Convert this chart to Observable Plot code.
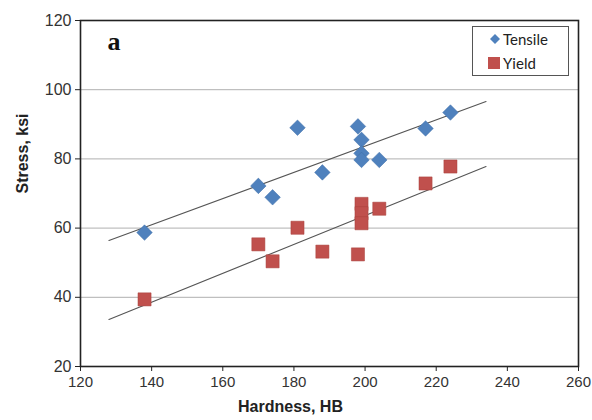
<!DOCTYPE html>
<html>
<head>
<meta charset="utf-8">
<script src="https://cdn.jsdelivr.net/npm/d3@7"></script>
<script src="https://cdn.jsdelivr.net/npm/@observablehq/plot@0.6"></script>
<style>
  html, body { margin: 0; padding: 0; background: #fff; }
  #wrap { position: relative; width: 592px; height: 420px; }
  #legend {
    position: absolute; left: 472px; top: 26px; width: 97px; height: 50px;
    border: 1px solid #555; background: #fff; box-sizing: border-box;
    font-family: Lato, "Open Sans", sans-serif; font-size: 15px; color: #222;
  }
  #legend .item { position: absolute; left: 15px; display: flex; align-items: center; }
  #legend svg { margin-right: 2px; }
</style>
</head>
<body>
<div id="wrap"><div id="legend"></div></div>
<script>
// Hardness (HB) for each specimen
const tensileHardness = [138, 170, 174, 181, 188, 198, 199, 199, 199, 204, 217, 224];
const tensileStress   = [58.7, 72.2, 68.9, 89.0, 76.1, 89.4, 85.5, 81.6, 79.7, 79.7, 88.8, 93.4];
const yieldHardness   = [138, 170, 174, 181, 188, 198, 199, 199, 199, 204, 217, 224];
const yieldStress     = [39.4, 55.3, 50.4, 60.1, 53.2, 52.4, 67.0, 64.3, 61.4, 65.6, 72.9, 77.8];
// Trend line end points (Excel linear fit, forecast)
const trendHardness = [128, 234];
const trendTensile  = [56.4, 96.6];
const trendYield    = [33.6, 77.8];
const xTicks = [120, 140, 160, 180, 200, 220, 240, 260];
const yTicks = [20, 40, 60, 80, 100, 120];
const gridTicks = [40, 60, 80, 100];
const seriesNames = ["Tensile", "Yield"];
const seriesColors = ["#4F81BD", "#C0504D"];

const tensile = tensileHardness.map((x, i) => ({x, y: tensileStress[i]}));
const yieldData = yieldHardness.map((x, i) => ({x, y: yieldStress[i]}));
const tTrend = trendHardness.map((x, i) => ({x, y: trendTensile[i]}));
const yTrend = trendHardness.map((x, i) => ({x, y: trendYield[i]}));

const chart = Plot.plot({
  width: 592, height: 420,
  marginLeft: 80, marginRight: 14, marginTop: 20, marginBottom: 54,
  style: {fontFamily: "Liberation Sans, Arial, sans-serif", background: "#fff"},
  x: {domain: [120, 260]},
  y: {domain: [20, 120]},
  marks: [
    Plot.gridY(gridTicks, {stroke: "#b0b0b0", strokeOpacity: 1, strokeWidth: 1}),
    Plot.axisX({ticks: xTicks, tickSize: 5, tickPadding: 5, fontSize: 15, fill: "#333", stroke: "#222", label: null}),
    Plot.axisY({ticks: yTicks, tickSize: 5, tickPadding: 4, fontSize: 16, fill: "#333", stroke: "#222", label: null}),
    Plot.text(["Hardness, HB"], {frameAnchor: "bottom", dy: 45, dx: -39, fontSize: 16, fontWeight: "bold", fill: "#222"}),
    Plot.text(["Stress, ksi"], {frameAnchor: "left", dx: -58, rotate: -90, fontSize: 16, fontWeight: "bold", fill: "#222"}),
    Plot.text(["a"], {frameAnchor: "top-left", dx: 27, dy: 11, textAnchor: "start", lineAnchor: "top", fontSize: 26, fontWeight: "bold", fontFamily: "Liberation Serif, Times New Roman, serif", fill: "#111"}),
    Plot.line(tTrend, {x: "x", y: "y", stroke: "#555", strokeWidth: 1.1}),
    Plot.line(yTrend, {x: "x", y: "y", stroke: "#555", strokeWidth: 1.1}),
    Plot.dot(tensile, {x: "x", y: "y", symbol: "diamond2", r: 7, fill: seriesColors[0], stroke: "#3f6fa8", strokeWidth: 0.5}),
    Plot.dot(yieldData, {x: "x", y: "y", symbol: "square", r: 7.4, fill: seriesColors[1], stroke: "#a8403d", strokeWidth: 0.5}),
    Plot.frame({stroke: "#222", strokeWidth: 1.6})
  ]
});
const wrap = document.getElementById("wrap");
wrap.insertBefore(chart, wrap.firstChild);

// Legend
const legend = document.getElementById("legend");
const shapes = [
  '<svg width="12" height="12" viewBox="-6 -6 12 12"><path d="M0,-5L5,0L0,5L-5,0Z" fill="' + seriesColors[0] + '"/></svg>',
  '<svg width="14" height="14" viewBox="-7 -7 14 14"><rect x="-6" y="-6" width="12" height="12" fill="' + seriesColors[1] + '"/></svg>'
];
seriesNames.forEach((name, i) => {
  const d = document.createElement("div");
  d.className = "item";
  d.style.top = (i === 0 ? 3 : 27) + "px";
  d.style.left = (i === 0 ? 16 : 14) + "px";
  d.innerHTML = shapes[i] + "<span>" + name + "</span>";
  legend.appendChild(d);
});
</script>
</body>
</html>
